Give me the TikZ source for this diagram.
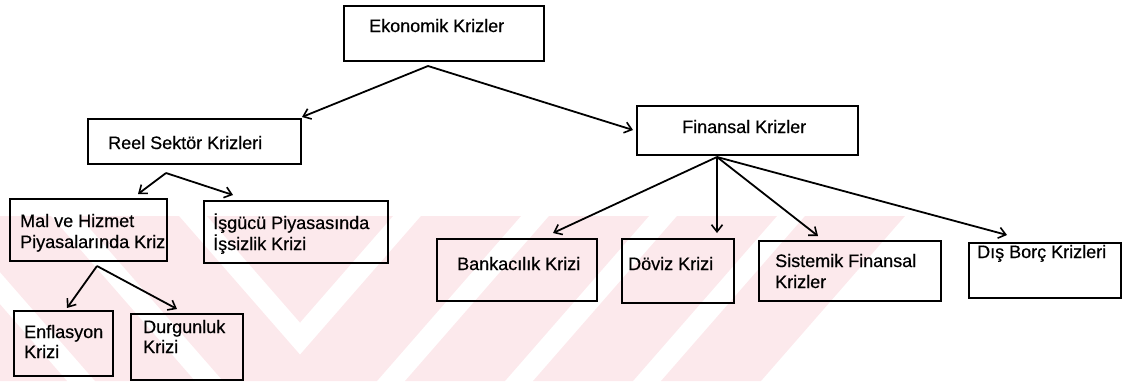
\documentclass[tikz,border=0pt]{standalone}
\usepackage{fontspec}
\setmainfont[FakeBold=0.5]{Liberation Sans}
\usetikzlibrary{arrows.meta}
\definecolor{wmpink}{RGB}{252,233,236}
\tikzset{
  box/.style={draw=black, line width=2pt, inner sep=0pt, anchor=north west},
  lbl/.style={anchor=base west, inner sep=0pt, font=\fontsize{18}{21}\selectfont},
  link/.style={draw=black, line width=1.8pt,
    -{Straight Barb[length=7pt,width=11pt,line width=1.6pt]}},
  band/.style={fill=wmpink, draw=none},
}
\begin{document}
\begin{tikzpicture}[x=1pt,y=-1pt]
\useasboundingbox (0,0) rectangle (1131,381);

% faint chevron watermark in the lower band
\begin{scope}
  \clip (0,216) rectangle (300,381);
  \foreach \a in {-177,-49,79,207} {
    \fill[band] (\a,216) -- (\a+100,216) -- (\a+244,381) -- (\a+144,381) -- cycle;
  }
\end{scope}
\begin{scope}
  \clip (300,216) rectangle (1131,381);
  \foreach \b in {293,421,549,677,805} {
    \fill[band] (\b,216) -- (\b+100,216) -- (\b-44,381) -- (\b-144,381) -- cycle;
  }
\end{scope}

% boxes
\node[box, minimum width=200, minimum height=55] (eko) at (343,5) {};
\node[box, minimum width=213, minimum height=45] (reel) at (87,118) {};
\node[box, minimum width=221, minimum height=49] (fin) at (636,105) {};
\node[box, minimum width=157, minimum height=62] (mal) at (9,198) {};
\node[box, minimum width=184, minimum height=62] (isg) at (203,200) {};
\node[box, minimum width=99, minimum height=65] (enf) at (13,310) {};
\node[box, minimum width=112, minimum height=66] (dur) at (130,313) {};
\node[box, minimum width=160, minimum height=62] (bank) at (436,238) {};
\node[box, minimum width=112, minimum height=64] (doviz) at (621,238) {};
\node[box, minimum width=182, minimum height=60] (sist) at (758,240) {};
\node[box, minimum width=152, minimum height=55] (dis) at (968,242) {};

% labels
\node[lbl] (ekoT) at (369,32) {Ekonomik Krizler};
\node[lbl] (reelT) at (108,149) {Reel Sektör Krizleri};
\node[lbl] (finT) at (682,133) {Finansal Krizler};
\node[lbl] (malT1) at (20,227) {Mal ve Hizmet};
\node[lbl] (malT2) at (20,248) {Piyasalarında Kriz};
\node[lbl] (isgT1) at (213,229) {İşgücü Piyasasında};
\node[lbl] (isgT2) at (213,250) {İşsizlik Krizi};
\node[lbl] (enfT1) at (24,338) {Enflasyon};
\node[lbl] (enfT2) at (24,358) {Krizi};
\node[lbl] (durT1) at (143,333) {Durgunluk};
\node[lbl] (durT2) at (143,353) {Krizi};
\node[lbl] (bankT) at (457,270) {Bankacılık Krizi};
\node[lbl] (dovizT) at (628,270) {Döviz Krizi};
\node[lbl] (sistT1) at (775,267) {Sistemik Finansal};
\node[lbl] (sistT2) at (775,288) {Krizler};
\node[lbl] (disT) at (977,258) {Dış Borç Krizleri};

% branching points under each parent
\coordinate (ekoV) at (428,66);
\coordinate (reelV) at (166,173);
\coordinate (finV) at (717,157);
\coordinate (malV) at (97,266);

% arrow ends above each child
\coordinate (reelIn) at (302,117);
\coordinate (finIn) at (633,130);
\coordinate (malIn) at (138,194);
\coordinate (isgIn) at (233,195);
\coordinate (enfIn) at (67,308);
\coordinate (durIn) at (177,309);
\coordinate (bankIn) at (553,233);
\coordinate (dovizIn) at (717,233);
\coordinate (sistIn) at (818,236);
\coordinate (disIn) at (1007,235);

% connectors
\draw[link] (ekoV) -- (reelIn);
\draw[link] (ekoV) -- (finIn);
\draw[link] (reelV) -- (malIn);
\draw[link] (reelV) -- (isgIn);
\draw[link] (malV) -- (enfIn);
\draw[link] (malV) -- (durIn);
\draw[link] (finV) -- (bankIn);
\draw[link] (finV) -- (dovizIn);
\draw[link] (finV) -- (sistIn);
\draw[link] (finV) -- (disIn);
\end{tikzpicture}
\end{document}
